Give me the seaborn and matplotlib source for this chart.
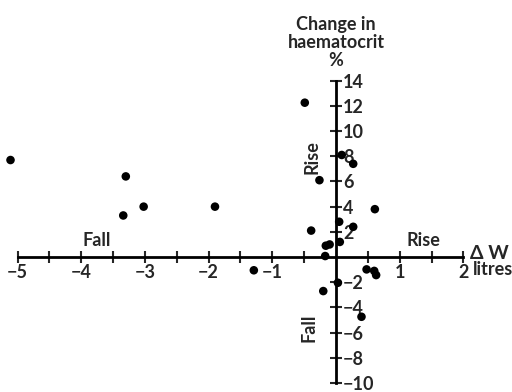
import numpy as np
import pandas as pd
import seaborn as sns
import matplotlib.pyplot as plt

# change in body water (litres) vs change in haematocrit (%)
delta_w = [-5.11, -3.30, -3.34, -3.02, -1.90, -1.29, -0.49, 0.09, 0.27, -0.26,
           -0.39, 0.05, 0.27, 0.06, -0.16, -0.10, -0.17, 0.61, 0.48, 0.60,
           0.63, -0.20, 0.40, 0.03]
haem = [7.7, 6.4, 3.3, 4.0, 4.0, -1.05, 12.25, 8.1, 7.4, 6.1,
        2.1, 2.8, 2.4, 1.2, 0.9, 1.0, 0.08, 3.8, -0.98, -1.1,
        -1.43, -2.7, -4.74, -2.04]

x_major = [-5, -4, -3, -2, -1, 1, 2]
x_minor = [-4.5, -3.5, -2.5, -1.5, -0.5, 0.5, 1.5]
y_major = [-10, -8, -6, -4, -2, 2, 4, 6, 8, 10, 12, 14]

df = pd.DataFrame({'dw': delta_w, 'haem': haem})

sns.set_style('white')
plt.rcParams['font.family'] = ['Lato', 'DejaVu Sans']
plt.rcParams['font.weight'] = 'bold'

fig = plt.figure(figsize=(5.12, 3.92), dpi=100)
ax = fig.add_axes([0, 0, 1, 1])
ax.patch.set_alpha(0)

sns.scatterplot(data=df, x='dw', y='haem', color='black', s=38, edgecolor='none', ax=ax)

ax.set_xlim(-5.275, 2.763)
ax.set_ylim(-10.71, 20.4)

# cross shaped axes through the origin
ax.spines['left'].set_visible(False)
ax.spines['top'].set_visible(False)
ax.spines['bottom'].set_position(('data', 0))
ax.spines['right'].set_position(('data', 0))
ax.spines['bottom'].set_bounds(-5, 2)
ax.spines['right'].set_bounds(-10, 14)
for s in ['bottom', 'right']:
    ax.spines[s].set_linewidth(2)
    ax.spines[s].set_color('black')
ax.yaxis.set_ticks_position('right')
ax.xaxis.set_ticks_position('bottom')

ax.set_xticks(x_major)
ax.set_xticks(x_minor, minor=True)
ax.set_yticks(y_major)
ax.set_xticklabels(['\u2212' + str(-v) if v < 0 else str(v) for v in x_major])
ax.set_yticklabels(['\u2212' + str(-v) if v < 0 else str(v) for v in y_major])
ax.tick_params(axis='x', which='both', direction='inout', length=8, width=1.5,
               pad=1, labelsize=13)
ax.tick_params(axis='y', direction='inout', length=8, width=1.5, pad=1, labelsize=13)
ax.set_xlabel('')
ax.set_ylabel('')

ax.text(0, 20.4 - 1.3, 'Change in\nhaematocrit\n%', ha='center', va='top',
        fontsize=13, linespacing=1.05)
ax.text(-0.38, 7.9, 'Rise', rotation=90, ha='center', va='center', fontsize=13)
ax.text(-0.42, -5.6, 'Fall', rotation=90, ha='center', va='center', fontsize=13)
ax.text(-3.75, 0.6, 'Fall', ha='center', va='bottom', fontsize=13)
ax.text(1.38, 0.6, 'Rise', ha='center', va='bottom', fontsize=13)
ax.text(2.1, 0.25, '\u0394 W', ha='left', va='center', fontsize=14)
ax.text(2.15, -0.3, 'litres', ha='left', va='top', fontsize=13)

fig.savefig('out.png', dpi=100)
